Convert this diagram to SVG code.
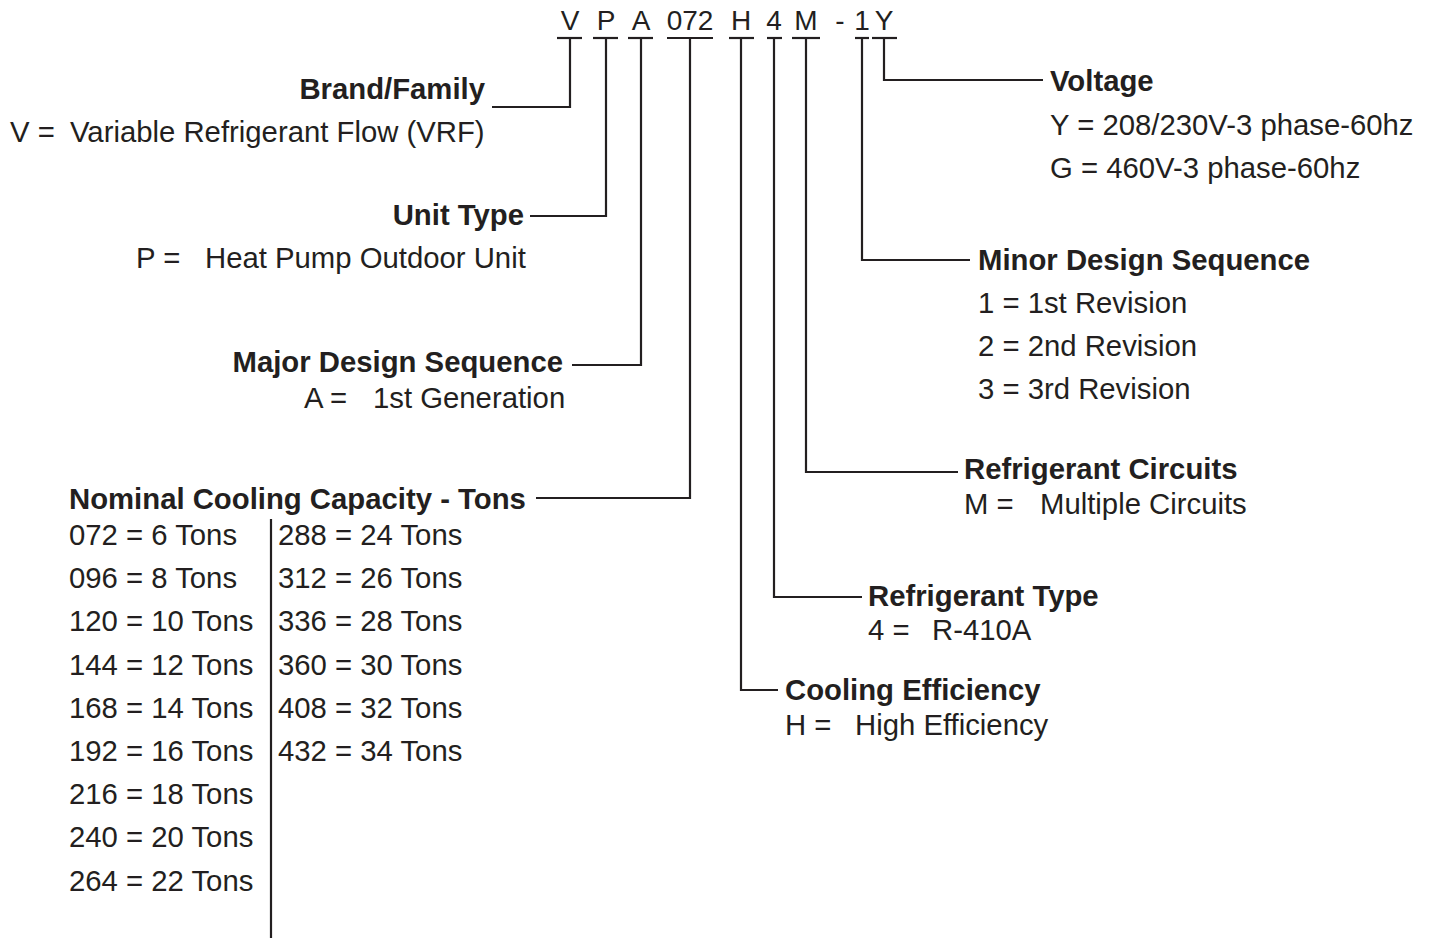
<svg xmlns="http://www.w3.org/2000/svg" width="1432" height="938" viewBox="0 0 1432 938">
<style>
text{font-family:"Liberation Sans",Arial,sans-serif;font-size:29.3px;fill:#231f20}
.b{font-weight:bold}
.c{text-anchor:middle;font-size:28px}
.e{text-anchor:end}
#connectors path,#connectors line{stroke:#231f20;stroke-width:2.2;fill:none}
</style>
<rect width="1432" height="938" fill="#fff"/>
<g id="code">
<text class="c" x="570" y="30">V</text>
<text class="c" x="606" y="30">P</text>
<text class="c" x="641" y="30">A</text>
<text class="c" x="690" y="30">072</text>
<text class="c" x="741" y="30">H</text>
<text class="c" x="774" y="30">4</text>
<text class="c" x="806" y="30">M</text>
<text class="c" x="840" y="30">-</text>
<text class="c" x="862" y="30">1</text>
<text class="c" x="884" y="30">Y</text>
</g>
<g id="connectors">
<line x1="557" y1="38" x2="582" y2="38"/>
<line x1="593" y1="38" x2="618" y2="38"/>
<line x1="628" y1="38" x2="653" y2="38"/>
<line x1="667" y1="38" x2="713" y2="38"/>
<line x1="729" y1="38" x2="754" y2="38"/>
<line x1="767" y1="38" x2="782" y2="38"/>
<line x1="792" y1="38" x2="820" y2="38"/>
<line x1="855" y1="38" x2="869" y2="38"/>
<line x1="872" y1="38" x2="897" y2="38"/>
<path d="M570 38V107H492"/>
<path d="M606 38V216H530"/>
<path d="M641 38V365H572"/>
<path d="M690 38V498H536"/>
<path d="M884 38V80H1043"/>
<path d="M862 38V260H970"/>
<path d="M806 38V472H958"/>
<path d="M774 38V597H862"/>
<path d="M741 38V690H778"/>
<line x1="271" y1="519" x2="271" y2="938"/>
</g>
<g id="brand">
<text class="b e" x="485" y="99">Brand/Family</text>
<text x="10" y="142">V =</text><text x="70" y="142">Variable Refrigerant Flow (VRF)</text>
</g>
<g id="unittype">
<text class="b e" x="524" y="225">Unit Type</text>
<text x="136" y="268">P =</text><text x="205" y="268">Heat Pump Outdoor Unit</text>
</g>
<g id="major">
<text class="b e" x="563" y="372">Major Design Sequence</text>
<text x="304" y="408">A =</text><text x="373" y="408">1st Generation</text>
</g>
<g id="capacity">
<text class="b" x="69" y="509">Nominal Cooling Capacity - Tons</text>
<text x="69" y="545">072 = 6 Tons</text>
<text x="69" y="588">096 = 8 Tons</text>
<text x="69" y="631">120 = 10 Tons</text>
<text x="69" y="675">144 = 12 Tons</text>
<text x="69" y="718">168 = 14 Tons</text>
<text x="69" y="761">192 = 16 Tons</text>
<text x="69" y="804">216 = 18 Tons</text>
<text x="69" y="847">240 = 20 Tons</text>
<text x="69" y="891">264 = 22 Tons</text>
<text x="278" y="545">288 = 24 Tons</text>
<text x="278" y="588">312 = 26 Tons</text>
<text x="278" y="631">336 = 28 Tons</text>
<text x="278" y="675">360 = 30 Tons</text>
<text x="278" y="718">408 = 32 Tons</text>
<text x="278" y="761">432 = 34 Tons</text>
</g>
<g id="voltage">
<text class="b" x="1050" y="91">Voltage</text>
<text x="1050" y="135">Y = 208/230V-3 phase-60hz</text>
<text x="1050" y="178">G = 460V-3 phase-60hz</text>
</g>
<g id="minor">
<text class="b" x="978" y="270">Minor Design Sequence</text>
<text x="978" y="313">1 = 1st Revision</text>
<text x="978" y="356">2 = 2nd Revision</text>
<text x="978" y="399">3 = 3rd Revision</text>
</g>
<g id="circuits">
<text class="b" x="964" y="479">Refrigerant Circuits</text>
<text x="964" y="514">M =</text><text x="1040" y="514">Multiple Circuits</text>
</g>
<g id="reftype">
<text class="b" x="868" y="606">Refrigerant Type</text>
<text x="868" y="640">4 =</text><text x="932" y="640">R-410A</text>
</g>
<g id="efficiency">
<text class="b" x="785" y="700">Cooling Efficiency</text>
<text x="785" y="735">H =</text><text x="855" y="735">High Efficiency</text>
</g>
</svg>
